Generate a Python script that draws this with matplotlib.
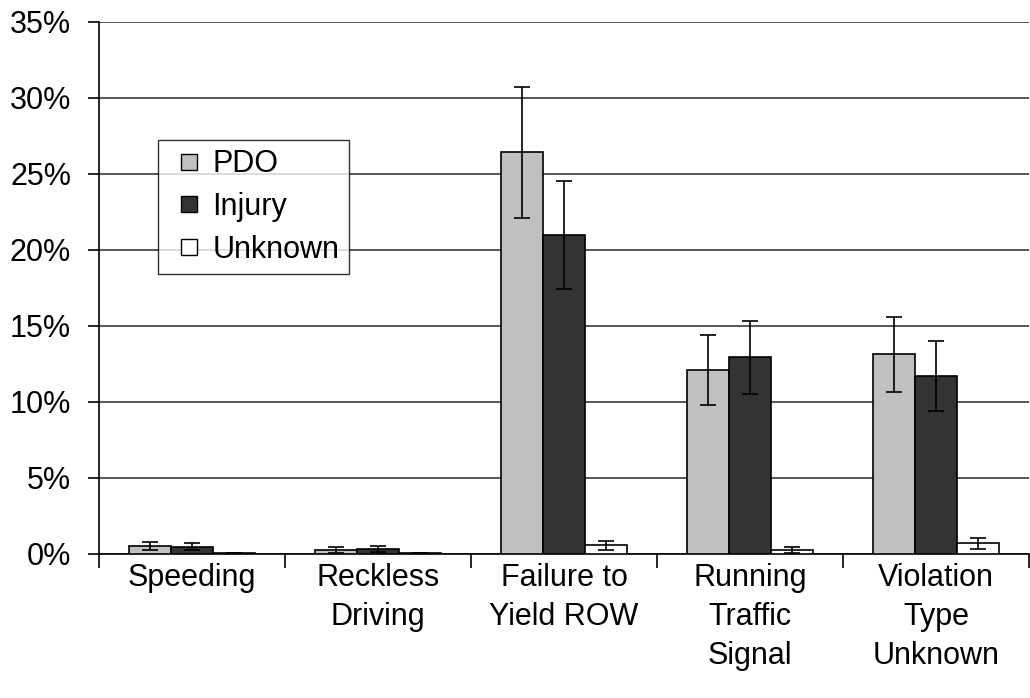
import numpy as np
import matplotlib.pyplot as plt
from matplotlib.ticker import FuncFormatter
from matplotlib.lines import Line2D

plt.rcParams['font.family'] = ['Liberation Sans', 'DejaVu Sans']

# data (percent)
categories = ["Speeding", "Reckless\nDriving", "Failure to\nYield ROW",
              "Running\nTraffic\nSignal", "Violation\nType\nUnknown"]
series = ["PDO", "Injury", "Unknown"]
pdo = [0.5, 0.22, 26.4, 12.1, 13.1]
injury = [0.45, 0.3, 20.95, 12.9, 11.7]
unknown = [0.02, 0.02, 0.53, 0.22, 0.66]
pdo_err = [0.25, 0.18, 4.3, 2.3, 2.45]
injury_err = [0.25, 0.22, 3.55, 2.4, 2.3]
unknown_err = [0.0, 0.0, 0.3, 0.18, 0.38]
colors = ["#c0c0c0", "#333333", "#ffffff"]

fig = plt.figure(figsize=(10.3, 6.98), dpi=100)
ax = fig.add_axes([99 / 1030, 144.5 / 698, 930 / 1030, 532 / 698])

x = np.arange(len(categories))
w = 0.227
vals = [pdo, injury, unknown]
errs = [pdo_err, injury_err, unknown_err]
for i in range(3):
    ax.bar(x + (i - 1) * w, vals[i], w, color=colors[i], edgecolor="black",
           linewidth=1.2, label=series[i], zorder=3,
           yerr=errs[i], error_kw=dict(ecolor="black", elinewidth=1.2,
                                       capsize=5.8, capthick=1.2, zorder=4))

ax.set_ylim(0, 35)
ax.set_xlim(-0.5, len(categories) - 0.5)
ax.set_yticks(np.arange(0, 36, 5))
ax.yaxis.set_major_formatter(FuncFormatter(lambda v, p: f"{v:.0f}%"))
ax.yaxis.grid(True, color="#3a3a3a", linewidth=1.2, zorder=0)
ax.set_axisbelow(True)

ax.set_xticks(np.arange(len(categories) + 1) - 0.5)
ax.set_xticklabels([])
ax.set_xticks(x, minor=True)
ax.set_xticklabels(categories, minor=True, fontsize=22, linespacing=1.38,
                   verticalalignment="top")
ax.tick_params(axis="x", which="minor", length=0, pad=7)
ax.tick_params(axis="x", which="major", length=10, width=1.2)
ax.tick_params(axis="y", labelsize=22, length=8, width=1.2, pad=12)

for s in ["top", "right"]:
    ax.spines[s].set_visible(False)
for s in ["left", "bottom"]:
    ax.spines[s].set_linewidth(1.2)

# legend with square markers
handles = [Line2D([], [], linestyle="none", marker="s", markersize=12,
                  markerfacecolor=c, markeredgecolor="black",
                  markeredgewidth=1.0) for c in colors]
leg = ax.legend(handles, series, loc="upper left",
                bbox_to_anchor=(0.063, 0.777), fontsize=22,
                frameon=True, fancybox=False, edgecolor="black",
                handlelength=1.45, handletextpad=0.05,
                borderpad=0.3, borderaxespad=0, labelspacing=0.42)
leg.get_frame().set_linewidth(1.0)

fig.savefig("out.png", dpi=100)
